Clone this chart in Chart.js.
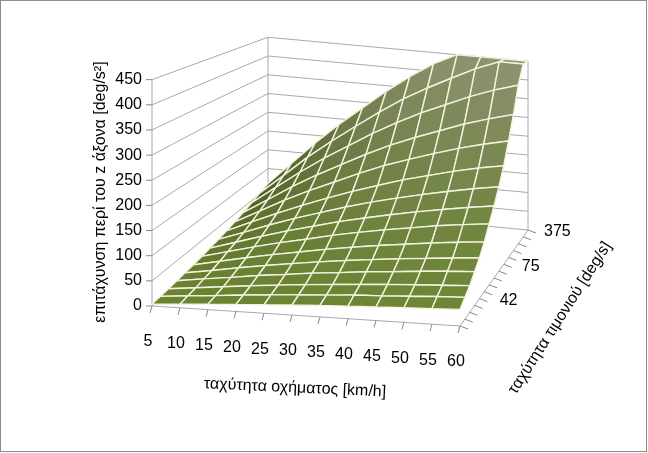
<!DOCTYPE html>
<html>
<head>
<meta charset="utf-8">
<script src="https://cdn.jsdelivr.net/npm/chart.js@4"></script>
<style>
  html, body { margin: 0; padding: 0; background: #fff; }
  #wrap { width: 648px; height: 453px; position: relative; }
</style>
</head>
<body>
<div id="wrap"><canvas id="c" width="648" height="453"></canvas></div>
<script>
// ταχύτητα οχήματος [km/h]
const speeds = [5, 10, 15, 20, 25, 30, 35, 40, 45, 50, 55, 60];
// ταχύτητα τιμονιού [deg/s] – σειρές (μπροστά -> πίσω)
const steerRates = [22, 27, 32, 37, 42, 48, 54, 60, 67, 75, 120, 180, 240, 300, 375];
const steerLabels = ["", "", "", "", "42", "", "", "", "", "75", "", "", "", "", "375"];
const zTicks = [0, 50, 100, 150, 200, 250, 300, 350, 400, 450];

// επιτάχυνση [deg/s^2], μία γραμμή ανά ταχύτητα τιμονιού
const yawAccel = [
  [4, 7, 11, 14, 17, 20, 23, 25, 27, 29, 31, 33],
  [5, 10, 14, 19, 23, 27, 30, 34, 36, 39, 42, 44],
  [6, 12, 18, 24, 29, 34, 38, 42, 46, 49, 52, 55],
  [8, 16, 23, 31, 37, 44, 49, 55, 59, 64, 68, 71],
  [10, 19, 29, 38, 46, 54, 61, 67, 73, 78, 83, 87],
  [12, 24, 36, 47, 57, 67, 76, 84, 91, 98, 104, 109],
  [15, 30, 45, 59, 71, 84, 95, 105, 114, 123, 130, 136],
  [18, 36, 54, 71, 86, 101, 114, 126, 137, 147, 156, 164],
  [22, 43, 65, 85, 103, 121, 137, 151, 164, 176, 187, 196],
  [26, 52, 77, 101, 123, 144, 163, 181, 196, 211, 224, 234],
  [31, 62, 94, 122, 148, 174, 198, 218, 237, 255, 270, 283],
  [37, 74, 112, 146, 177, 208, 236, 260, 282, 304, 322, 338],
  [44, 89, 133, 174, 211, 248, 281, 311, 337, 363, 385, 403],
  [52, 104, 157, 204, 248, 291, 331, 365, 396, 426, 450, 450],
  [60, 120, 180, 235, 285, 335, 380, 420, 450, 450, 450, 450]
];

// projection frame (in scale units of the hidden x/y axes)
const FL = [152, 306], FR = [460, 326], BL = [268, 206], BR = [528, 230];
const zFront = 0.503, zBack = 0.375, zMax = 450;

function proj(u, w, z) {
  const x = (1 - u) * (1 - w) * FL[0] + u * (1 - w) * FR[0] + (1 - u) * w * BL[0] + u * w * BR[0];
  const y = (1 - u) * (1 - w) * FL[1] + u * (1 - w) * FR[1] + (1 - u) * w * BL[1] + u * w * BR[1];
  const s = zFront * (1 - w) + zBack * w;
  return [x, y - z * s];
}

const surfacePlugin = {
  id: "surface3d",
  afterDatasetsDraw(chart) {
    const ctx = chart.ctx;
    const sx = chart.scales.x, sy = chart.scales.y;
    const P = (u, w, z) => {
      const p = proj(u, w, z);
      return [sx.getPixelForValue(p[0]), sy.getPixelForValue(p[1])];
    };
    const nU = speeds.length - 1, nW = steerRates.length - 1;
    const line = (a, b, col, lw) => {
      ctx.beginPath(); ctx.moveTo(a[0], a[1]); ctx.lineTo(b[0], b[1]);
      ctx.strokeStyle = col; ctx.lineWidth = lw; ctx.stroke();
    };
    ctx.save();

    // walls + gridlines
    const grid = "#a8a8a8";
    zTicks.forEach(z => {
      line(P(0, 0, z), P(0, 1, z), grid, 1);
      line(P(0, 1, z), P(1, 1, z), grid, 1);
    });
    line(P(0, 0, 0), P(0, 0, zMax), grid, 1);
    line(P(0, 1, 0), P(0, 1, zMax), grid, 1);
    line(P(1, 1, 0), P(1, 1, zMax), grid, 1);
    line(P(0, 0, 0), P(1, 0, 0), grid, 1);
    line(P(1, 0, 0), P(1, 1, 0), grid, 1);

    // surface quads, back to front
    for (let j = nW - 1; j >= 0; j--) {
      for (let i = 0; i < nU; i++) {
        const z00 = yawAccel[j][i], z10 = yawAccel[j][i + 1];
        const z01 = yawAccel[j + 1][i], z11 = yawAccel[j + 1][i + 1];
        const pts = [P(i / nU, j / nW, z00), P((i + 1) / nU, j / nW, z10),
                     P((i + 1) / nU, (j + 1) / nW, z11), P(i / nU, (j + 1) / nW, z01)];
        const t = (z00 + z10 + z01 + z11) / 4 / zMax;
        const slopeU = (z10 + z11 - z00 - z01) / 2;
        const slopeW = (z01 + z11 - z00 - z10) / 2;
        const k = 1 - 0.35 * Math.min(1, slopeU / 50) * (1 - t) * (1 - i / nU)
                    - 0.1 * Math.min(1, slopeW / 60) * (1 - t);
        const r = (108 + 35 * t) * k, g = (136 + 12 * t) * k, b = (50 + 65 * t) * k;
        ctx.beginPath();
        ctx.moveTo(pts[0][0], pts[0][1]);
        for (let q = 1; q < 4; q++) ctx.lineTo(pts[q][0], pts[q][1]);
        ctx.closePath();
        ctx.fillStyle = `rgb(${r | 0},${g | 0},${b | 0})`;
        ctx.fill();
        ctx.strokeStyle = "#f4f1dc";
        ctx.lineWidth = 1.4;
        ctx.stroke();
      }
    }

    // ticks and labels
    ctx.fillStyle = "#000";
    ctx.font = "16px 'Liberation Sans', Arial, sans-serif";
    ctx.textAlign = "right"; ctx.textBaseline = "middle";
    zTicks.forEach(z => {
      const p = P(0, 0, z);
      line([p[0] - 6, p[1]], p, "#888", 1);
      ctx.fillText(String(z), p[0] - 10, p[1]);
    });
    ctx.textAlign = "center";
    speeds.forEach((v, i) => {
      const p = P(i / nU, 0, 0);
      line(p, [p[0] - 2, p[1] + 7], "#888", 1);
      ctx.fillText(String(v), p[0] - 4, p[1] + 36);
    });
    ctx.textAlign = "left";
    steerRates.forEach((s, j) => {
      const p = P(1, j / nW, 0);
      line(p, [p[0] + 8, p[1] + 3], "#888", 1);
      if (steerLabels[j]) ctx.fillText(steerLabels[j], p[0] + 22 - 6 * j / nW, p[1] + 2);
    });

    // axis titles
    ctx.textAlign = "center";
    ctx.save();
    ctx.translate(sx.getPixelForValue(101), sy.getPixelForValue(192));
    ctx.rotate(-Math.PI / 2);
    ctx.fillText("επιτάχυνση περί του z άξονα [deg/s²]", 0, 0);
    ctx.restore();
    ctx.save();
    ctx.translate(sx.getPixelForValue(295), sy.getPixelForValue(388));
    ctx.rotate(0.045);
    ctx.fillText("ταχύτητα οχήματος [km/h]", 0, 0);
    ctx.restore();
    ctx.save();
    ctx.translate(sx.getPixelForValue(560), sy.getPixelForValue(318));
    ctx.rotate(-1.0);
    ctx.fillText("ταχύτητα τιμονιού [deg/s]", 0, 0);
    ctx.restore();

    // outer frame
    ctx.strokeStyle = "#8c8c8c"; ctx.lineWidth = 1;
    ctx.strokeRect(sx.getPixelForValue(0) + 0.5, sy.getPixelForValue(0) + 0.5, 646, 451);
    ctx.restore();
  }
};

new Chart(document.getElementById("c").getContext("2d"), {
  type: "scatter",
  data: { datasets: [{ data: [], pointRadius: 0 }] },
  options: {
    responsive: false,
    animation: false,
    layout: { padding: 0 },
    plugins: { legend: { display: false }, tooltip: { enabled: false } },
    scales: {
      x: { type: "linear", min: 0, max: 648, display: false },
      y: { type: "linear", min: 0, max: 453, reverse: true, display: false }
    }
  },
  plugins: [surfacePlugin]
});
</script>
</body>
</html>
